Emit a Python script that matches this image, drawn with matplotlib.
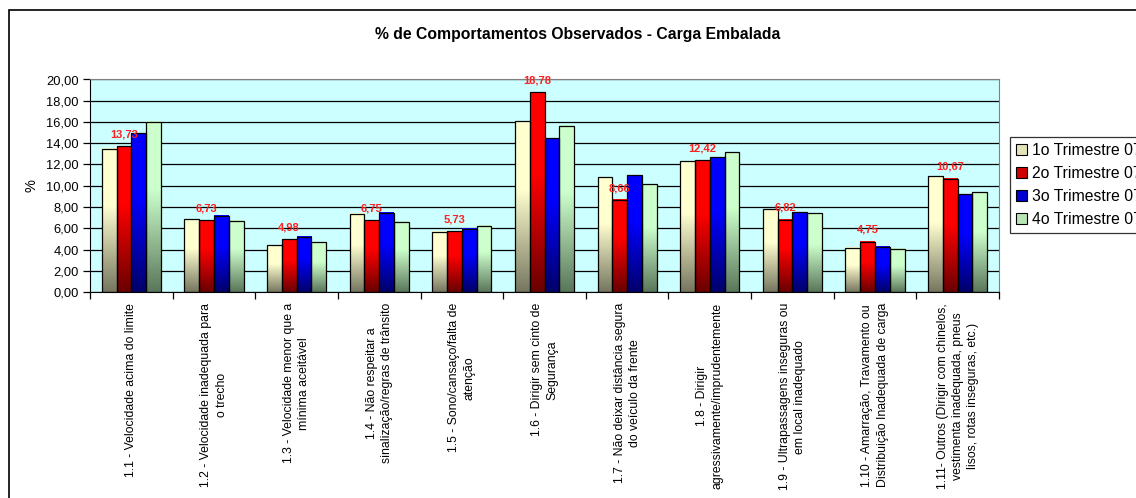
import numpy as np
import matplotlib
matplotlib.use("Agg")
import matplotlib.pyplot as plt
from matplotlib.colors import LinearSegmentedColormap
from matplotlib.patches import Patch, Rectangle

plt.rcParams['font.family'] = ['Liberation Sans', 'DejaVu Sans']
plt.rcParams['image.composite_image'] = False

# -------------------------------
# Data
# -------------------------------
categories = [
    "1.1 - Velocidade acima do limite",
    "1.2 - Velocidade inadequada para\no trecho",
    "1.3 - Velocidade menor que a\nmínima aceitável",
    "1.4 - Não respeitar a\nsinalização/regras de trânsito",
    "1.5 - Sono/cansaço/falta de\natenção",
    "1.6 - Dirigir sem cinto de\nSegurança",
    "1.7 - Não deixar distância segura\ndo veículo da frente",
    "1.8 - Dirigir\nagressivamente/imprudentemente",
    "1.9 - Ultrapassagens inseguras ou\nem local inadequado",
    "1.10 - Amarração, Travamento ou\nDistribuição Inadequada de carga",
    "1.11- Outros (Dirigir com chinelos,\nvestimenta inadequada, pneus\nlisos, rotas inseguras, etc.)",
]
series_names = ["1o Trimestre 07", "2o Trimestre 07", "3o Trimestre 07", "4o Trimestre 07"]
tri1 = [13.50, 6.85, 4.38, 7.35, 5.66, 16.08, 10.80, 12.30, 7.80, 4.16, 10.89]
tri2 = [13.73, 6.73, 4.98, 6.75, 5.73, 18.78, 8.66, 12.42, 6.82, 4.75, 10.67]
tri3 = [14.96, 7.16, 5.22, 7.45, 5.94, 14.49, 10.99, 12.68, 7.51, 4.28, 9.20]
tri4 = [16.02, 6.69, 4.66, 6.60, 6.22, 15.65, 10.14, 13.15, 7.42, 4.07, 9.39]
yticks = np.arange(0, 21, 2)

series = [tri1, tri2, tri3, tri4]
# (bottom, top) gradient colours per series
grads = [("#767660", "#ffffd0"), ("#6a0000", "#ff0000"),
         ("#00006a", "#0000ff"), ("#5a765a", "#ccffcc")]
legend_colors = ["#e4e4b8", "#d00000", "#0000d0", "#b8e4b8"]

# -------------------------------
# Figure
# -------------------------------
W, H = 1136, 498
fig = plt.figure(figsize=(W / 100, H / 100), dpi=100)
fig.patches.append(Rectangle((9 / W, -0.2), 1.2, 1.2 - 10 / H,
                             transform=fig.transFigure, fill=False,
                             ec="black", lw=1.2))

ax = fig.add_axes([90 / W, 1 - 292 / H, (999 - 90) / W, (292 - 79.5) / H])
ax.set_facecolor("#ccffff")

x = np.arange(len(categories))
bw = 0.179
grad = np.linspace(0, 1, 256).reshape(-1, 1)
for i, vals in enumerate(series):
    pos = x + (i - 1.5) * bw
    bars = ax.bar(pos, vals, bw, color="none", edgecolor="black", lw=0.9, zorder=3)
    cmap = LinearSegmentedColormap.from_list(
        f"g{i}", [(0, grads[i][0]), (0.6, grads[i][1]), (1, grads[i][1])])
    for b in bars:
        x0, y0 = b.get_x(), b.get_y()
        ax.imshow(grad, extent=[x0, x0 + b.get_width(), y0, y0 + b.get_height()],
                  origin="lower", cmap=cmap, aspect="auto", zorder=2.5)

# data labels for the 2nd quarter
for xi, v in zip(x, tri2):
    ax.annotate(f"{v:.2f}".replace(".", ","), (xi - 0.5 * bw, v),
                xytext=(0, 5), textcoords="offset points",
                ha="center", va="bottom", color="#ff2020",
                fontsize=8, fontweight="bold", zorder=5)

ax.set_xlim(-0.5, len(categories) - 0.5)
ax.set_ylim(0, 20)
ax.set_yticks(yticks)
ax.set_yticklabels([f"{v:.2f}".replace(".", ",") for v in yticks], fontsize=9.3)
ax.yaxis.grid(True, color="black", lw=0.9)
ax.set_axisbelow(True)

ax.set_xticks(np.arange(-0.5, len(categories)), minor=False)
ax.set_xticklabels([])
ax.set_xticks(x, minor=True)
ax.set_xticklabels(categories, minor=True, rotation=90, fontsize=8.8,
                   ha="center", va="top", multialignment="center",
                   linespacing=1.35)
ax.tick_params(axis="x", which="major", length=5, width=0.9, direction="out")
ax.tick_params(axis="x", which="minor", length=0, pad=8)
ax.tick_params(axis="y", length=5, width=0.9, direction="out", pad=3)

for s in ["top", "right"]:
    ax.spines[s].set_color("#808080")
for s in ["left", "bottom"]:
    ax.spines[s].set_color("black")

fig.text(578 / W, 1 - 35 / H, "% de Comportamentos Observados - Carga Embalada",
         ha="center", va="center", fontsize=11.3, fontweight="bold")
fig.text(32 / W, 1 - 186 / H, "%", rotation=90, ha="center", va="center", fontsize=10.5)

handles = [Patch(facecolor=c, edgecolor="black", lw=0.8) for c in legend_colors]
leg = fig.legend(handles, series_names, loc="upper left",
                 bbox_to_anchor=(1010 / W, 1 - 137 / H), fontsize=11.3,
                 frameon=True, fancybox=False, edgecolor="black",
                 handlelength=0.7, handleheight=0.7, handletextpad=0.3,
                 labelspacing=0.5, borderpad=0.4, borderaxespad=0)
leg.get_frame().set_linewidth(0.9)

plt.savefig("out.png", dpi=100)
